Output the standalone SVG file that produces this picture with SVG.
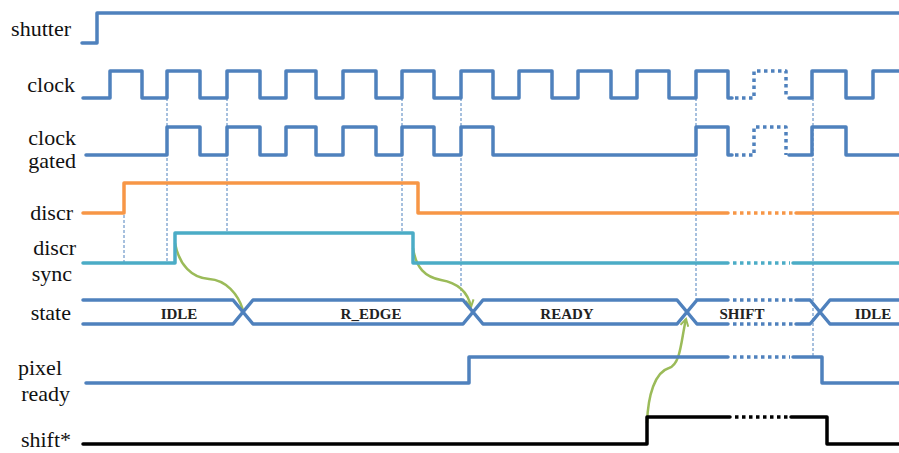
<svg xmlns="http://www.w3.org/2000/svg" width="899" height="453" viewBox="0 0 899 453">
<style>
  .lbl { font-family: 'Liberation Serif', 'Times New Roman', serif; font-size: 22px; fill: #111; text-anchor: end; }
  .st { font-family: 'Liberation Serif', 'Times New Roman', serif; font-size: 15px; font-weight: bold; fill: #222; text-anchor: middle; }
  .w { fill: none; stroke-width: 3.5; stroke-linejoin: round; stroke-linecap: round; }
  .blue { stroke: #4F81BD; }
  .orange { stroke: #F79646; }
  .teal { stroke: #4BACC6; }
  .black { stroke: #000; }
  .dot { stroke-dasharray: 3.5 3.5; stroke-linecap: butt; }
  .vdash { fill: none; stroke: #4F81BD; stroke-width: 1; stroke-dasharray: 3 2; }
  .arr { fill: none; stroke: #9BBB59; stroke-width: 2.5; }
</style>
<defs>
  <marker id="ah" viewBox="0 0 10 10" refX="8" refY="5" markerWidth="10" markerHeight="10" orient="auto" markerUnits="userSpaceOnUse">
    <path d="M1,1 L8,5 L1,9" fill="none" stroke="#9BBB59" stroke-width="2"/>
  </marker>
</defs>
<rect width="899" height="453" fill="#fff"/>

<g id="labels" font-family="Liberation Serif, serif">
  <text class="lbl" x="71" y="36">shutter</text>
  <text class="lbl" x="75" y="92">clock</text>
  <text class="lbl" x="76" y="145">clock</text>
  <text class="lbl" x="76" y="168">gated</text>
  <text class="lbl" x="73" y="220">discr</text>
  <text class="lbl" x="76" y="255">discr</text>
  <text class="lbl" x="72" y="281">sync</text>
  <text class="lbl" x="71" y="320">state</text>
  <text class="lbl" x="62" y="375">pixel</text>
  <text class="lbl" x="70" y="401">ready</text>
  <text class="lbl" x="71" y="447">shift*</text>
</g>

<g id="connectors">
  <line class="vdash" x1="124" y1="185" x2="124" y2="263"/>
  <line class="vdash" x1="167" y1="98" x2="167" y2="263"/>
  <line class="vdash" x1="227" y1="98" x2="227" y2="233"/>
  <line class="vdash" x1="402" y1="98" x2="402" y2="233"/>
  <line class="vdash" x1="461" y1="98" x2="461" y2="299"/>
  <line class="vdash" x1="696" y1="98" x2="696" y2="299"/>
  <line class="vdash" x1="813" y1="98" x2="813" y2="357"/>
  <path class="arr" d="M175,243 C179,265 192,278 209,279 C226,280 238,294 243,310"/>
  <path class="arr" d="M413,248 C416,268 425,277 441,280 C458,283 468,292 471,307" marker-end="url(#ah)"/>
  <path class="arr" d="M647,423 C648,395 655,372 669,368 C681,364 681,340 686,319" marker-end="url(#ah)"/>
</g>

<g id="shutter">
  <path class="w blue" d="M82,43 H97 V13 H899"/>
</g>

<g id="clock">
  <path class="w blue" d="M83,98 H110 V71 H142 V98 H167 V71 H200 V98 H227 V71 H260 V98 H286 V71 H316 V98 H343 V71 H376 V98 H402 V71 H434 V98 H461 V71 H493 V98 H519 V71 H552 V98 H578 V71 H611 V98 H637 V71 H669 V98 H696 V71 H728 V98 H732"/>
  <path class="w blue dot" d="M735,98 H754 V71 H786 V98"/>
  <path class="w blue" d="M789,98 H812 V71 H846 V98 H873 V71 H899"/>
</g>

<g id="clock-gated">
  <path class="w blue" d="M86,155 H167 V127 H200 V155 H227 V127 H260 V155 H286 V127 H316 V155 H343 V127 H376 V155 H402 V127 H434 V155 H461 V127 H493 V155 H696 V127 H728 V155 H732"/>
  <path class="w blue dot" d="M735,155 H754 V127 H786 V155"/>
  <path class="w blue" d="M789,155 H812 V127 H846 V155 H899"/>
</g>

<g id="discr">
  <path class="w orange" d="M83,213 H124 V183 H418 V213 H728"/>
  <path class="w orange dot" d="M733,213 H793"/>
  <path class="w orange" d="M796,213 H899"/>
</g>

<g id="discr-sync">
  <path class="w teal" d="M83,263 H175 V233 H413 V263 H728"/>
  <path class="w teal dot" d="M733,263 H790"/>
  <path class="w teal" d="M793,263 H899"/>
</g>

<g id="state">
  <path class="w blue" d="M83,300 H233 L253,324 H463 L483,300 H677 L697,324 H728"/>
  <path class="w blue" d="M83,324 H233 L253,300 H463 L483,324 H677 L697,300 H728"/>
  <path class="w blue dot" d="M733,300 H793 M733,324 H793"/>
  <path class="w blue" d="M796,300 H810 L830,324 H899 M796,324 H810 L830,300 H899"/>
  <text class="st" x="179" y="319">IDLE</text>
  <text class="st" x="371" y="319">R_EDGE</text>
  <text class="st" x="567" y="319">READY</text>
  <text class="st" x="742" y="319">SHIFT</text>
  <text class="st" x="873" y="319">IDLE</text>
</g>

<g id="pixel-ready">
  <path class="w blue" d="M86,383 H469 V357 H728"/>
  <path class="w blue dot" d="M733,357 H790"/>
  <path class="w blue" d="M793,357 H822 V383 H899"/>
</g>

<g id="shift">
  <path class="w black" d="M83,444 H647 V417 H730"/>
  <path class="w black dot" d="M735,417 H788"/>
  <path class="w black" d="M791,417 H827 V444 H899"/>
</g>
</svg>
